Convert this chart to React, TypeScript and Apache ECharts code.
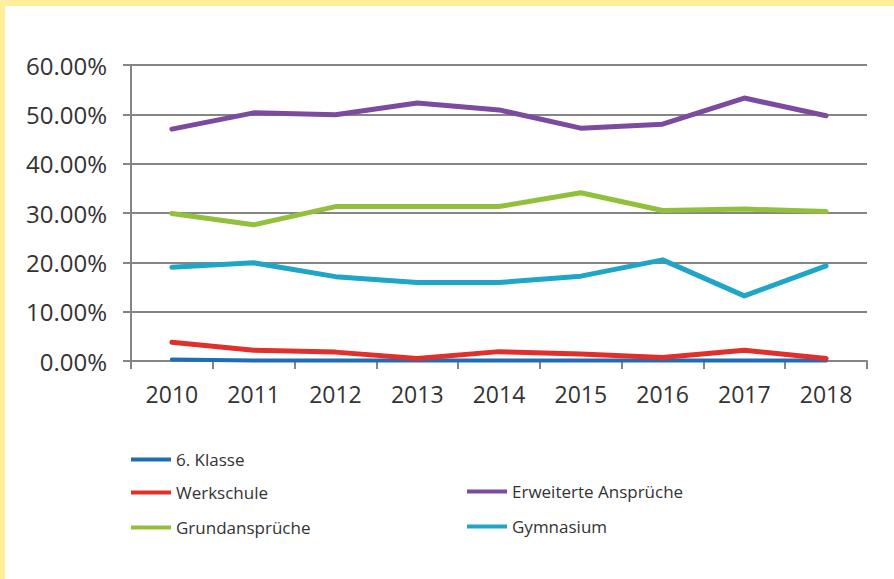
import React, { useEffect, useRef } from "react";
import * as echarts from "echarts";

const years = ["2010", "2011", "2012", "2013", "2014", "2015", "2016", "2017", "2018"];
const klasse6 = [0.3, 0.1, 0.1, 0.1, 0.1, 0.1, 0.1, 0.1, 0.1];
const werkschule = [3.8, 2.2, 1.8, 0.5, 1.9, 1.4, 0.7, 2.2, 0.5];
const grundansprueche = [29.9, 27.6, 31.3, 31.3, 31.3, 34.1, 30.5, 30.8, 30.3];
const erweiterte = [47.0, 50.3, 49.9, 52.3, 50.9, 47.2, 48.0, 53.3, 49.7];
const gymnasium = [19.0, 19.9, 17.1, 15.9, 15.9, 17.2, 20.5, 13.2, 19.3];

const seriesNames = ["6. Klasse", "Werkschule", "Grundansprüche", "Erweiterte Ansprüche", "Gymnasium"];
const seriesData = [klasse6, werkschule, grundansprueche, erweiterte, gymnasium];
const seriesColors = ["#1f6db4", "#e0302b", "#93c03c", "#7c4a9e", "#1fa6c6"];
const seriesWidths = [4, 5, 5, 5, 5];

const FONT = "'Open Sans', 'Liberation Sans', sans-serif";

export default function App() {
  const ref = useRef<HTMLDivElement>(null);
  useEffect(() => {
    if (!ref.current) return;
    const chart = echarts.init(ref.current, null, { renderer: "svg" });
    const legendPos = [
      { left: 131, top: 451 },
      { left: 131, top: 484 },
      { left: 131, top: 519 },
      { left: 467, top: 483 },
      { left: 467, top: 518 },
    ];
    chart.setOption({
      animation: false,
      backgroundColor: "#ffffff",
      graphic: [
        { type: "rect", left: 0, top: 0, shape: { width: 894, height: 6 }, style: { fill: "#fef09b" } },
        { type: "rect", left: 0, top: 0, shape: { width: 5, height: 579 }, style: { fill: "#fef09b" } },
      ],
      grid: { left: 131, right: 27, top: 65, bottom: 218, containLabel: false },
      legend: seriesNames.map((n, i) => ({
        data: [n],
        left: legendPos[i].left,
        top: legendPos[i].top,
        icon: "rect",
        itemWidth: 40,
        itemHeight: 4,
        padding: 0,
        textStyle: { fontFamily: FONT, fontSize: 17, color: "#333333" },
      })),
      xAxis: {
        type: "category",
        data: years,
        boundaryGap: true,
        axisLine: { show: true, lineStyle: { color: "#858585", width: 2 } },
        axisTick: { show: true, alignWithLabel: false, length: 8, lineStyle: { color: "#858585", width: 2 } },
        axisLabel: { fontFamily: FONT, fontSize: 23, color: "#333333", margin: 21 },
        splitLine: { show: false },
      },
      yAxis: {
        type: "value",
        min: 0,
        max: 60,
        interval: 10,
        axisLine: { show: true, lineStyle: { color: "#858585", width: 2 } },
        axisTick: { show: true, length: 8, lineStyle: { color: "#858585", width: 2 } },
        axisLabel: {
          fontFamily: FONT,
          fontSize: 24,
          color: "#333333",
          margin: 24,
          formatter: (v: number) => v.toFixed(2) + "%",
        },
        splitLine: { show: true, lineStyle: { color: "#858585", width: 2 } },
      },
      series: seriesNames.map((n, i) => ({
        name: n,
        type: "line",
        data: seriesData[i],
        symbol: "none",
        color: seriesColors[i],
        lineStyle: { width: seriesWidths[i], color: seriesColors[i], cap: "round", join: "round" },
      })),
    });
    return () => chart.dispose();
  }, []);
  return (
    <div style={{ position: "absolute", left: 0, top: 0, width: 894, height: 579 }}>
      <div ref={ref} style={{ width: 894, height: 579 }} />
    </div>
  );
}
